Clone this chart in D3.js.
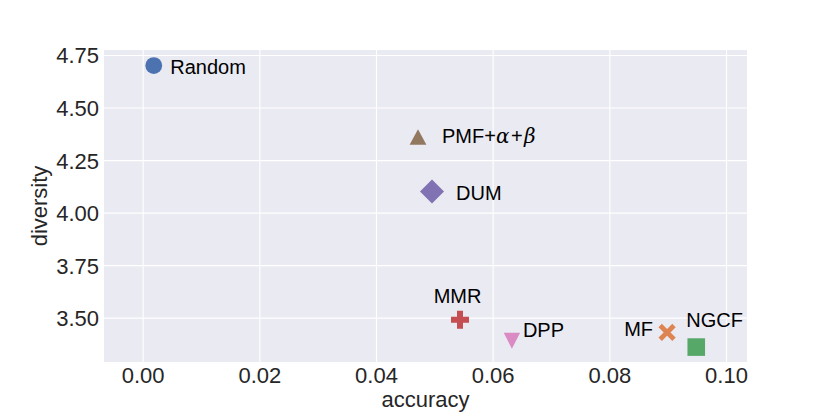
<!DOCTYPE html>
<html>
<head>
<meta charset="utf-8">
<script src="https://cdn.jsdelivr.net/npm/d3@7"></script>
<style>
  body { margin: 0; background: #fff; }
  text { font-family: "Liberation Sans", Arial, sans-serif; }
</style>
</head>
<body>
<svg width="830" height="415"></svg>
<script>
// data
const methods = ["Random", "PMF+α+β", "DUM", "MMR", "DPP", "MF", "NGCF"];
const accuracy = [0.0019, 0.0472, 0.0496, 0.0544, 0.0633, 0.0899, 0.0949];
const diversity = [4.70, 4.36, 4.10, 3.49, 3.39, 3.43, 3.36];
const xTicks = [0.00, 0.02, 0.04, 0.06, 0.08, 0.10];
const yTicks = [3.50, 3.75, 4.00, 4.25, 4.50, 4.75];

// marker shape / colour per method (seaborn deep)
const shapes = ["circle", "triangleUp", "diamond", "plus", "triangleDown", "cross", "square"];
const colors = ["#4C72B0", "#937860", "#8172B3", "#C44E52", "#DA8BC3", "#DD8452", "#55A868"];
// label offsets in px from the marker, and anchor
const labelDx = [16.5, 24, 24, -2.5, 11, -14, -10];
const labelDy = [8, 6.5, 8, -17, -3.5, 4, -20];
const anchors = ["start", "start", "start", "middle", "start", "end", "start"];

const svg = d3.select("svg");
const pLeft = 104, pRight = 747, pTop = 50, pBottom = 362;

const x = d3.scaleLinear().domain([-0.00663, 0.1036]).range([pLeft, pRight]);
const y = d3.scaleLinear().domain([3.289, 4.774]).range([pBottom, pTop]);

svg.append("rect")
  .attr("x", pLeft).attr("y", pTop)
  .attr("width", pRight - pLeft).attr("height", pBottom - pTop)
  .attr("fill", "#EAEAF2");

// grid + tick labels via axes
const xAxis = svg.append("g")
  .attr("transform", `translate(0,${pBottom})`)
  .call(d3.axisBottom(x).tickValues(xTicks).tickFormat(d3.format(".2f"))
    .tickSize(-(pBottom - pTop)).tickPadding(0));
const yAxis = svg.append("g")
  .attr("transform", `translate(${pLeft},0)`)
  .call(d3.axisLeft(y).tickValues(yTicks).tickFormat(d3.format(".2f"))
    .tickSize(-(pRight - pLeft)).tickPadding(5));

[xAxis, yAxis].forEach(g => {
  g.select(".domain").remove();
  g.selectAll(".tick line").attr("stroke", "#fff").attr("stroke-width", 1.1);
  g.selectAll(".tick text")
    .attr("fill", "#262626")
    .style("font-size", "22px")
    .style("font-family", "'Liberation Sans', Arial, sans-serif");
});
xAxis.selectAll(".tick text").attr("y", 21).attr("dy", 0);
yAxis.selectAll(".tick text").attr("dy", "0.36em");

// marker paths
function markerPath(type) {
  switch (type) {
    case "circle":
      return d3.symbol(d3.symbolCircle, Math.PI * 8.4 * 8.4)();
    case "square":
      return "M-8.8,-8.8H8.8V8.8H-8.8Z";
    case "diamond":
      return "M0,-12L12,0L0,12L-12,0Z";
    case "triangleUp":
      return "M0,-7.8L8.4,7.8L-8.4,7.8Z";
    case "triangleDown":
      return "M0,8L8.2,-8L-8.2,-8Z";
    case "plus": {
      const a = 9, b = 3;
      return `M${-b},${-a}H${b}V${-b}H${a}V${b}H${b}V${a}H${-b}V${b}H${-a}V${-b}H${-b}Z`;
    }
    case "cross": {
      const a = 8.6, b = 3.4;
      const p = [[0, -b], [a - b, -a], [a, -a + b], [b, 0], [a, a - b], [a - b, a],
                 [0, b], [-a + b, a], [-a, a - b], [-b, 0], [-a, -a + b], [-a + b, -a]];
      return "M" + p.map(d => d.join(",")).join("L") + "Z";
    }
  }
}

const pts = svg.append("g").selectAll("g")
  .data(methods)
  .join("g")
  .attr("transform", (d, i) => `translate(${x(accuracy[i])},${y(diversity[i])})`);

pts.append("path")
  .attr("d", (d, i) => markerPath(shapes[i]))
  .attr("fill", (d, i) => colors[i]);

const labels = pts.append("text")
  .attr("x", (d, i) => labelDx[i])
  .attr("y", (d, i) => labelDy[i])
  .attr("text-anchor", (d, i) => anchors[i])
  .attr("fill", "#000")
  .style("font-size", "20px");

labels.each(function (d) {
  const t = d3.select(this);
  if (d.includes("α")) {
    t.append("tspan").text("PMF+");
    t.append("tspan").text("α").style("font-family", "'DejaVu Serif', serif").style("font-style", "italic");
    t.append("tspan").attr("dx", 1.5).text("+");
    t.append("tspan").attr("dx", 1.5).text("β").style("font-family", "'DejaVu Serif', serif").style("font-style", "italic");
  } else {
    t.text(d);
  }
});

// axis titles
svg.append("text")
  .attr("x", (pLeft + pRight) / 2).attr("y", 407)
  .attr("text-anchor", "middle")
  .attr("fill", "#262626")
  .style("font-size", "22px")
  .text("accuracy");

svg.append("text")
  .attr("transform", `translate(47,${(pTop + pBottom) / 2}) rotate(-90)`)
  .attr("text-anchor", "middle")
  .attr("fill", "#262626")
  .style("font-size", "22px")
  .text("diversity");
</script>
</body>
</html>
